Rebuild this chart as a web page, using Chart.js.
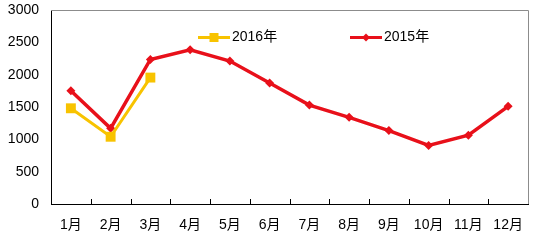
<!DOCTYPE html>
<html>
<head>
<meta charset="utf-8">
<script src="https://cdn.jsdelivr.net/npm/chart.js@4/dist/chart.umd.min.js"></script>
<style>
html, body { margin: 0; padding: 0; background: #fff; }
#wrap { width: 547px; height: 242px; }
</style>
</head>
<body>
<div id="wrap"><canvas id="grafica" width="547" height="242"></canvas></div>
<script>
const meses = ['1月', '2月', '3月', '4月', '5月', '6月', '7月', '8月', '9月', '10月', '11月', '12月'];
const datos2016 = [1480, 1040, 1955, null, null, null, null, null, null, null, null, null];
const datos2015 = [1750, 1170, 2235, 2385, 2210, 1870, 1530, 1340, 1135, 905, 1065, 1510];
const ticksY = [0, 500, 1000, 1500, 2000, 2500, 3000];

const fuente = '"Liberation Sans", Arial, "Noto Sans CJK SC", sans-serif';

// marco gris arriba/derecha, marcas del eje x hacia dentro, y leyenda dentro del area
const extras = {
    id: 'extras',
    afterDraw(chart) {
        const ctx = chart.ctx;
        const a = chart.chartArea;
        ctx.save();
        ctx.strokeStyle = '#8c8c8c';
        ctx.lineWidth = 1;
        ctx.beginPath();
        ctx.moveTo(a.left, a.top + 0.5);
        ctx.lineTo(a.right + 0.5, a.top + 0.5);
        ctx.lineTo(a.right + 0.5, a.bottom);
        ctx.stroke();

        const paso = (a.right - a.left) / meses.length;
        ctx.strokeStyle = '#000';
        ctx.beginPath();
        for (let i = 1; i < meses.length; i++) {
            const px = Math.round(a.left + i * paso) + 0.5;
            ctx.moveTo(px, a.bottom);
            ctx.lineTo(px, a.bottom - 5);
        }
        ctx.stroke();

        const posiciones = [198, 350];
        chart.data.datasets.forEach((ds, i) => {
            const lx = posiciones[i];
            const ly = 37.5;
            ctx.strokeStyle = ds.borderColor;
            ctx.lineWidth = 3;
            ctx.beginPath();
            ctx.moveTo(lx, ly);
            ctx.lineTo(lx + 32, ly);
            ctx.stroke();
            ctx.fillStyle = ds.pointBackgroundColor;
            const cx = lx + 16;
            if (ds.pointStyle === 'rect') {
                ctx.fillRect(cx - 4.5, ly - 4.5, 9, 9);
            } else {
                ctx.beginPath();
                ctx.moveTo(cx, ly - 4);
                ctx.lineTo(cx + 4, ly);
                ctx.lineTo(cx, ly + 4);
                ctx.lineTo(cx - 4, ly);
                ctx.closePath();
                ctx.fill();
            }
            ctx.fillStyle = '#000';
            ctx.font = '14px ' + fuente;
            ctx.textBaseline = 'middle';
            ctx.textAlign = 'left';
            ctx.fillText(ds.label, lx + 34, ly);
        });
        ctx.restore();
    }
};

const ctx = document.getElementById('grafica').getContext('2d');
const miGrafica = new Chart(ctx, {
    type: 'line',
    data: {
        labels: meses,
        datasets: [{
            label: '2016年',
            data: datos2016,
            borderColor: '#f8c300',
            pointBackgroundColor: '#f8c300',
            pointBorderColor: '#f8c300',
            pointStyle: 'rect',
            pointRadius: 7,
            pointBorderWidth: 0,
            borderWidth: 3,
            tension: 0,
            spanGaps: false
        }, {
            label: '2015年',
            data: datos2015,
            borderColor: '#e8101a',
            pointBackgroundColor: '#e8101a',
            pointBorderColor: '#e8101a',
            pointStyle: 'rectRot',
            pointRadius: 4.5,
            pointBorderWidth: 0,
            borderWidth: 3.5,
            tension: 0
        }]
    },
    options: {
        responsive: false,
        animation: false,
        devicePixelRatio: 1,
        layout: { padding: { left: 0, top: 10, right: 19, bottom: 0 } },
        plugins: {
            legend: { display: false },
            tooltip: { enabled: false }
        },
        scales: {
            x: {
                offset: true,
                grid: { display: false },
                border: { display: true, color: '#000', width: 1 },
                ticks: { color: '#000', font: { size: 14, family: fuente }, padding: 5, maxRotation: 0 },
                afterFit(s) { s.height = 38; s.paddingLeft = 0; s.paddingRight = 0; }
            },
            y: {
                min: 0,
                max: 3000,
                afterBuildTicks(s) { s.ticks = ticksY.map(v => ({ value: v })); },
                grid: { display: false, drawTicks: false },
                border: { display: true, color: '#000', width: 1 },
                ticks: {
                    color: '#000',
                    font: { size: 14, family: fuente },
                    padding: 12,
                    callback: v => String(v)
                },
                afterFit(s) { s.width = 51; s.paddingTop = 0; s.paddingBottom = 0; }
            }
        }
    },
    plugins: [extras]
});
</script>
</body>
</html>
